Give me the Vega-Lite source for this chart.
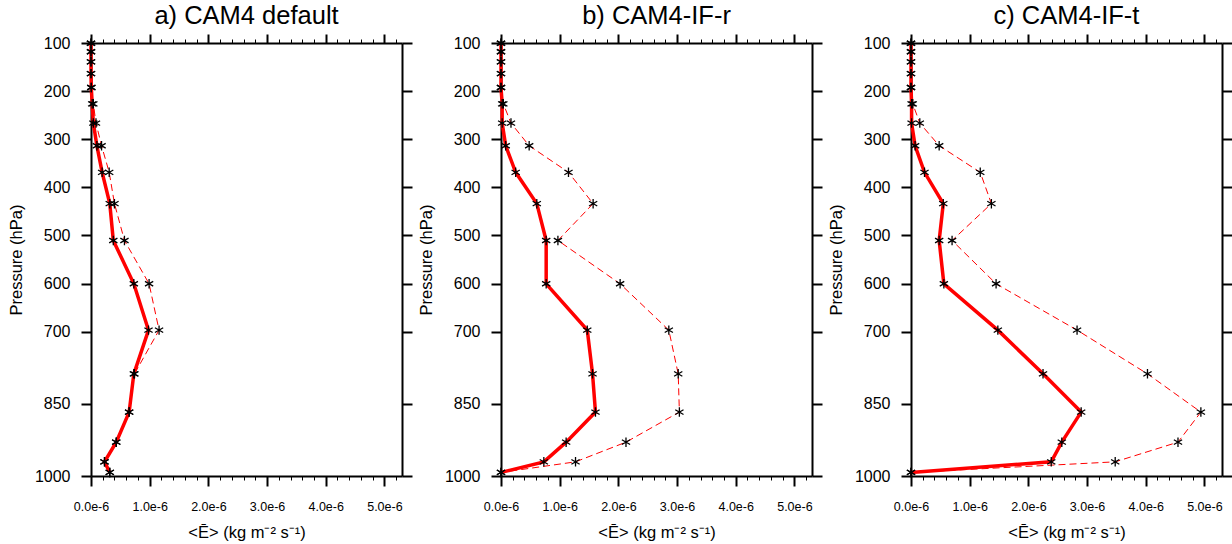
{
  "$schema": "https://vega.github.io/schema/vega-lite/v6.json",
  "padding": {"left": 8, "top": 3, "right": 0, "bottom": 0},
  "datasets": {
    "d": [
      {"panel":"a","s":"s","p":100.51,"e":0},{"panel":"a","s":"s","p":118.25,"e":0},{"panel":"a","s":"s","p":139.12,"e":0},{"panel":"a","s":"s","p":163.66,"e":0},{"panel":"a","s":"s","p":192.54,"e":0.005e-6},{"panel":"a","s":"s","p":226.51,"e":0.02e-6},{"panel":"a","s":"s","p":266.48,"e":0.04e-6},{"panel":"a","s":"s","p":313.5,"e":0.1e-6},{"panel":"a","s":"s","p":368.82,"e":0.19e-6},{"panel":"a","s":"s","p":433.9,"e":0.32e-6},{"panel":"a","s":"s","p":510.46,"e":0.38e-6},{"panel":"a","s":"s","p":600.52,"e":0.73e-6},{"panel":"a","s":"s","p":696.8,"e":0.98e-6},{"panel":"a","s":"s","p":787.7,"e":0.73e-6},{"panel":"a","s":"s","p":867.16,"e":0.65e-6},{"panel":"a","s":"s","p":929.65,"e":0.43e-6},{"panel":"a","s":"s","p":970.55,"e":0.23e-6},{"panel":"a","s":"s","p":992.56,"e":0.32e-6},
      {"panel":"a","s":"d","p":100.51,"e":0},{"panel":"a","s":"d","p":118.25,"e":0},{"panel":"a","s":"d","p":139.12,"e":0},{"panel":"a","s":"d","p":163.66,"e":0},{"panel":"a","s":"d","p":192.54,"e":0.005e-6},{"panel":"a","s":"d","p":226.51,"e":0.04e-6},{"panel":"a","s":"d","p":266.48,"e":0.085e-6},{"panel":"a","s":"d","p":313.5,"e":0.18e-6},{"panel":"a","s":"d","p":368.82,"e":0.31e-6},{"panel":"a","s":"d","p":433.9,"e":0.4e-6},{"panel":"a","s":"d","p":510.46,"e":0.57e-6},{"panel":"a","s":"d","p":600.52,"e":0.99e-6},{"panel":"a","s":"d","p":696.8,"e":1.16e-6},{"panel":"a","s":"d","p":787.7,"e":0.74e-6},{"panel":"a","s":"d","p":867.16,"e":0.65e-6},{"panel":"a","s":"d","p":929.65,"e":0.43e-6},{"panel":"a","s":"d","p":970.55,"e":0.23e-6},{"panel":"a","s":"d","p":992.56,"e":0.32e-6},
      {"panel":"b","s":"s","p":100.51,"e":0},{"panel":"b","s":"s","p":118.25,"e":0},{"panel":"b","s":"s","p":139.12,"e":0},{"panel":"b","s":"s","p":163.66,"e":0},{"panel":"b","s":"s","p":192.54,"e":0},{"panel":"b","s":"s","p":226.51,"e":0.02e-6},{"panel":"b","s":"s","p":266.48,"e":0.02e-6},{"panel":"b","s":"s","p":313.5,"e":0.08e-6},{"panel":"b","s":"s","p":368.82,"e":0.25e-6},{"panel":"b","s":"s","p":433.9,"e":0.61e-6},{"panel":"b","s":"s","p":510.46,"e":0.77e-6},{"panel":"b","s":"s","p":600.52,"e":0.77e-6},{"panel":"b","s":"s","p":696.8,"e":1.47e-6},{"panel":"b","s":"s","p":787.7,"e":1.56e-6},{"panel":"b","s":"s","p":867.16,"e":1.61e-6},{"panel":"b","s":"s","p":929.65,"e":1.11e-6},{"panel":"b","s":"s","p":970.55,"e":0.73e-6},{"panel":"b","s":"s","p":992.56,"e":0},
      {"panel":"b","s":"d","p":100.51,"e":0},{"panel":"b","s":"d","p":118.25,"e":0},{"panel":"b","s":"d","p":139.12,"e":0},{"panel":"b","s":"d","p":163.66,"e":0},{"panel":"b","s":"d","p":192.54,"e":0},{"panel":"b","s":"d","p":226.51,"e":0.04e-6},{"panel":"b","s":"d","p":266.48,"e":0.17e-6},{"panel":"b","s":"d","p":313.5,"e":0.48e-6},{"panel":"b","s":"d","p":368.82,"e":1.15e-6},{"panel":"b","s":"d","p":433.9,"e":1.57e-6},{"panel":"b","s":"d","p":510.46,"e":0.97e-6},{"panel":"b","s":"d","p":600.52,"e":2.03e-6},{"panel":"b","s":"d","p":696.8,"e":2.86e-6},{"panel":"b","s":"d","p":787.7,"e":3.02e-6},{"panel":"b","s":"d","p":867.16,"e":3.04e-6},{"panel":"b","s":"d","p":929.65,"e":2.13e-6},{"panel":"b","s":"d","p":970.55,"e":1.27e-6},{"panel":"b","s":"d","p":992.56,"e":0},
      {"panel":"c","s":"s","p":100.51,"e":0},{"panel":"c","s":"s","p":118.25,"e":0},{"panel":"c","s":"s","p":139.12,"e":0},{"panel":"c","s":"s","p":163.66,"e":0},{"panel":"c","s":"s","p":192.54,"e":0},{"panel":"c","s":"s","p":226.51,"e":0.01e-6},{"panel":"c","s":"s","p":266.48,"e":0.01e-6},{"panel":"c","s":"s","p":313.5,"e":0.07e-6},{"panel":"c","s":"s","p":368.82,"e":0.23e-6},{"panel":"c","s":"s","p":433.9,"e":0.55e-6},{"panel":"c","s":"s","p":510.46,"e":0.48e-6},{"panel":"c","s":"s","p":600.52,"e":0.56e-6},{"panel":"c","s":"s","p":696.8,"e":1.48e-6},{"panel":"c","s":"s","p":787.7,"e":2.25e-6},{"panel":"c","s":"s","p":867.16,"e":2.9e-6},{"panel":"c","s":"s","p":929.65,"e":2.57e-6},{"panel":"c","s":"s","p":970.55,"e":2.39e-6},{"panel":"c","s":"s","p":992.56,"e":0},
      {"panel":"c","s":"d","p":100.51,"e":0},{"panel":"c","s":"d","p":118.25,"e":0},{"panel":"c","s":"d","p":139.12,"e":0},{"panel":"c","s":"d","p":163.66,"e":0},{"panel":"c","s":"d","p":192.54,"e":0},{"panel":"c","s":"d","p":226.51,"e":0.03e-6},{"panel":"c","s":"d","p":266.48,"e":0.15e-6},{"panel":"c","s":"d","p":313.5,"e":0.48e-6},{"panel":"c","s":"d","p":368.82,"e":1.18e-6},{"panel":"c","s":"d","p":433.9,"e":1.37e-6},{"panel":"c","s":"d","p":510.46,"e":0.7e-6},{"panel":"c","s":"d","p":600.52,"e":1.45e-6},{"panel":"c","s":"d","p":696.8,"e":2.83e-6},{"panel":"c","s":"d","p":787.7,"e":4.03e-6},{"panel":"c","s":"d","p":867.16,"e":4.94e-6},{"panel":"c","s":"d","p":929.65,"e":4.55e-6},{"panel":"c","s":"d","p":970.55,"e":3.48e-6},{"panel":"c","s":"d","p":992.56,"e":0}
    ]
  },
  "data": {"name": "d"},
  "spacing": 99,
  "bounds": "flush",
  "hconcat": [
    {
      "title": "a) CAM4 default",
      "width": 311, "height": 433,
      "transform": [{"filter": "datum.panel == 'a'"}],
      "layer": [
        {"transform": [{"filter": "datum.s == 'd'"}],
         "mark": {"type": "line", "color": "#ff0000", "strokeWidth": 1, "strokeDash": [7, 4]},
         "encoding": {
           "x": {"field": "e", "type": "quantitative", "scale": {"domain": [0, 5.3e-6], "nice": false, "zero": true},
                 "axis": {"orient": "bottom", "title": "<Ē> (kg m⁻² s⁻¹)", "values": [0,0.2e-6,0.4e-6,0.6e-6,0.8e-6,1e-6,1.2e-6,1.4e-6,1.6e-6,1.8e-6,2e-6,2.2e-6,2.4e-6,2.6e-6,2.8e-6,3e-6,3.2e-6,3.4e-6,3.6e-6,3.8e-6,4e-6,4.2e-6,4.4e-6,4.6e-6,4.8e-6,5e-6,5.2e-6],
                          "labelExpr": "abs(datum.value*1e6 - round(datum.value*1e6)) < 0.01 ? format(datum.value*1e6, '.1f') + 'e-6' : ''",
                          "tickSize": {"condition": {"test": "abs(datum.value*1e6 - round(datum.value*1e6)) < 0.01", "value": 10}, "value": 4},
                          "tickWidth": {"condition": {"test": "abs(datum.value*1e6 - round(datum.value*1e6)) < 0.01", "value": 2}, "value": 1},
                          "labelFontSize": 12.5, "labelPadding": 14.5, "titleFontSize": 16.5, "titlePadding": 11, "labelFlush": false, "labelOverlap": false}},
           "y": {"field": "p", "type": "quantitative", "scale": {"domain": [100, 1000], "reverse": true, "nice": false, "zero": false},
                 "axis": {"orient": "left", "title": "Pressure (hPa)", "format": "d", "values": [100,200,300,400,500,600,700,850,1000], "tickSize": 10, "tickWidth": 2, "labelPadding": 11, "labelFontSize": 16, "titleFontSize": 16.5, "titlePadding": 10, "labelFlush": false, "labelOverlap": false}},
           "order": {"field": "p"}
         }},
        {"transform": [{"filter": "datum.s == 's'"}],
         "mark": {"type": "line", "color": "#ff0000", "strokeWidth": 3.5},
         "encoding": {
           "x": {"field": "e", "type": "quantitative", "scale": {"domain": [0, 5.3e-6], "nice": false, "zero": true},
                 "axis": {"orient": "top", "title": null, "labels": false, "values": [0,0.2e-6,0.4e-6,0.6e-6,0.8e-6,1e-6,1.2e-6,1.4e-6,1.6e-6,1.8e-6,2e-6,2.2e-6,2.4e-6,2.6e-6,2.8e-6,3e-6,3.2e-6,3.4e-6,3.6e-6,3.8e-6,4e-6,4.2e-6,4.4e-6,4.6e-6,4.8e-6,5e-6,5.2e-6],
                          "tickSize": {"condition": {"test": "abs(datum.value*1e6 - round(datum.value*1e6)) < 0.01", "value": 9}, "value": 4},
                          "tickWidth": {"condition": {"test": "abs(datum.value*1e6 - round(datum.value*1e6)) < 0.01", "value": 2}, "value": 1}}},
           "y": {"field": "p", "type": "quantitative", "scale": {"domain": [100, 1000], "reverse": true, "nice": false, "zero": false},
                 "axis": {"orient": "right", "title": null, "labels": false, "values": [100,200,300,400,500,600,700,850,1000], "tickSize": 10, "tickWidth": 2}},
           "order": {"field": "p"}
         }},
        {"mark": {"type": "point", "shape": "M0,-1L0,1M-0.87,-0.5L0.87,0.5M-0.87,0.5L0.87,-0.5", "filled": false, "color": "black", "strokeWidth": 1.3, "size": 90, "opacity": 1},
         "encoding": {
           "x": {"field": "e", "type": "quantitative", "axis": null},
           "y": {"field": "p", "type": "quantitative", "axis": null}
         }}
      ],
      "resolve": {"axis": {"x": "independent", "y": "independent"}}
    },
    {
      "title": "b) CAM4-IF-r",
      "width": 311, "height": 433,
      "transform": [{"filter": "datum.panel == 'b'"}],
      "layer": [
        {"transform": [{"filter": "datum.s == 'd'"}],
         "mark": {"type": "line", "color": "#ff0000", "strokeWidth": 1, "strokeDash": [7, 4]},
         "encoding": {
           "x": {"field": "e", "type": "quantitative", "scale": {"domain": [0, 5.3e-6], "nice": false, "zero": true},
                 "axis": {"orient": "bottom", "title": "<Ē> (kg m⁻² s⁻¹)", "values": [0,0.2e-6,0.4e-6,0.6e-6,0.8e-6,1e-6,1.2e-6,1.4e-6,1.6e-6,1.8e-6,2e-6,2.2e-6,2.4e-6,2.6e-6,2.8e-6,3e-6,3.2e-6,3.4e-6,3.6e-6,3.8e-6,4e-6,4.2e-6,4.4e-6,4.6e-6,4.8e-6,5e-6,5.2e-6],
                          "labelExpr": "abs(datum.value*1e6 - round(datum.value*1e6)) < 0.01 ? format(datum.value*1e6, '.1f') + 'e-6' : ''",
                          "tickSize": {"condition": {"test": "abs(datum.value*1e6 - round(datum.value*1e6)) < 0.01", "value": 10}, "value": 4},
                          "tickWidth": {"condition": {"test": "abs(datum.value*1e6 - round(datum.value*1e6)) < 0.01", "value": 2}, "value": 1},
                          "labelFontSize": 12.5, "labelPadding": 14.5, "titleFontSize": 16.5, "titlePadding": 11, "labelFlush": false, "labelOverlap": false}},
           "y": {"field": "p", "type": "quantitative", "scale": {"domain": [100, 1000], "reverse": true, "nice": false, "zero": false},
                 "axis": {"orient": "left", "title": "Pressure (hPa)", "format": "d", "values": [100,200,300,400,500,600,700,850,1000], "tickSize": 10, "tickWidth": 2, "labelPadding": 11, "labelFontSize": 16, "titleFontSize": 16.5, "titlePadding": 10, "labelFlush": false, "labelOverlap": false}},
           "order": {"field": "p"}
         }},
        {"transform": [{"filter": "datum.s == 's'"}],
         "mark": {"type": "line", "color": "#ff0000", "strokeWidth": 3.5},
         "encoding": {
           "x": {"field": "e", "type": "quantitative", "scale": {"domain": [0, 5.3e-6], "nice": false, "zero": true},
                 "axis": {"orient": "top", "title": null, "labels": false, "values": [0,0.2e-6,0.4e-6,0.6e-6,0.8e-6,1e-6,1.2e-6,1.4e-6,1.6e-6,1.8e-6,2e-6,2.2e-6,2.4e-6,2.6e-6,2.8e-6,3e-6,3.2e-6,3.4e-6,3.6e-6,3.8e-6,4e-6,4.2e-6,4.4e-6,4.6e-6,4.8e-6,5e-6,5.2e-6],
                          "tickSize": {"condition": {"test": "abs(datum.value*1e6 - round(datum.value*1e6)) < 0.01", "value": 9}, "value": 4},
                          "tickWidth": {"condition": {"test": "abs(datum.value*1e6 - round(datum.value*1e6)) < 0.01", "value": 2}, "value": 1}}},
           "y": {"field": "p", "type": "quantitative", "scale": {"domain": [100, 1000], "reverse": true, "nice": false, "zero": false},
                 "axis": {"orient": "right", "title": null, "labels": false, "values": [100,200,300,400,500,600,700,850,1000], "tickSize": 10, "tickWidth": 2}},
           "order": {"field": "p"}
         }},
        {"mark": {"type": "point", "shape": "M0,-1L0,1M-0.87,-0.5L0.87,0.5M-0.87,0.5L0.87,-0.5", "filled": false, "color": "black", "strokeWidth": 1.3, "size": 90, "opacity": 1},
         "encoding": {
           "x": {"field": "e", "type": "quantitative", "axis": null},
           "y": {"field": "p", "type": "quantitative", "axis": null}
         }}
      ],
      "resolve": {"axis": {"x": "independent", "y": "independent"}}
    },
    {
      "title": "c) CAM4-IF-t",
      "width": 311, "height": 433,
      "transform": [{"filter": "datum.panel == 'c'"}],
      "layer": [
        {"transform": [{"filter": "datum.s == 'd'"}],
         "mark": {"type": "line", "color": "#ff0000", "strokeWidth": 1, "strokeDash": [7, 4]},
         "encoding": {
           "x": {"field": "e", "type": "quantitative", "scale": {"domain": [0, 5.3e-6], "nice": false, "zero": true},
                 "axis": {"orient": "bottom", "title": "<Ē> (kg m⁻² s⁻¹)", "values": [0,0.2e-6,0.4e-6,0.6e-6,0.8e-6,1e-6,1.2e-6,1.4e-6,1.6e-6,1.8e-6,2e-6,2.2e-6,2.4e-6,2.6e-6,2.8e-6,3e-6,3.2e-6,3.4e-6,3.6e-6,3.8e-6,4e-6,4.2e-6,4.4e-6,4.6e-6,4.8e-6,5e-6,5.2e-6],
                          "labelExpr": "abs(datum.value*1e6 - round(datum.value*1e6)) < 0.01 ? format(datum.value*1e6, '.1f') + 'e-6' : ''",
                          "tickSize": {"condition": {"test": "abs(datum.value*1e6 - round(datum.value*1e6)) < 0.01", "value": 10}, "value": 4},
                          "tickWidth": {"condition": {"test": "abs(datum.value*1e6 - round(datum.value*1e6)) < 0.01", "value": 2}, "value": 1},
                          "labelFontSize": 12.5, "labelPadding": 14.5, "titleFontSize": 16.5, "titlePadding": 11, "labelFlush": false, "labelOverlap": false}},
           "y": {"field": "p", "type": "quantitative", "scale": {"domain": [100, 1000], "reverse": true, "nice": false, "zero": false},
                 "axis": {"orient": "left", "title": "Pressure (hPa)", "format": "d", "values": [100,200,300,400,500,600,700,850,1000], "tickSize": 10, "tickWidth": 2, "labelPadding": 11, "labelFontSize": 16, "titleFontSize": 16.5, "titlePadding": 10, "labelFlush": false, "labelOverlap": false}},
           "order": {"field": "p"}
         }},
        {"transform": [{"filter": "datum.s == 's'"}],
         "mark": {"type": "line", "color": "#ff0000", "strokeWidth": 3.5},
         "encoding": {
           "x": {"field": "e", "type": "quantitative", "scale": {"domain": [0, 5.3e-6], "nice": false, "zero": true},
                 "axis": {"orient": "top", "title": null, "labels": false, "values": [0,0.2e-6,0.4e-6,0.6e-6,0.8e-6,1e-6,1.2e-6,1.4e-6,1.6e-6,1.8e-6,2e-6,2.2e-6,2.4e-6,2.6e-6,2.8e-6,3e-6,3.2e-6,3.4e-6,3.6e-6,3.8e-6,4e-6,4.2e-6,4.4e-6,4.6e-6,4.8e-6,5e-6,5.2e-6],
                          "tickSize": {"condition": {"test": "abs(datum.value*1e6 - round(datum.value*1e6)) < 0.01", "value": 9}, "value": 4},
                          "tickWidth": {"condition": {"test": "abs(datum.value*1e6 - round(datum.value*1e6)) < 0.01", "value": 2}, "value": 1}}},
           "y": {"field": "p", "type": "quantitative", "scale": {"domain": [100, 1000], "reverse": true, "nice": false, "zero": false},
                 "axis": {"orient": "right", "title": null, "labels": false, "values": [100,200,300,400,500,600,700,850,1000], "tickSize": 10, "tickWidth": 2}},
           "order": {"field": "p"}
         }},
        {"mark": {"type": "point", "shape": "M0,-1L0,1M-0.87,-0.5L0.87,0.5M-0.87,0.5L0.87,-0.5", "filled": false, "color": "black", "strokeWidth": 1.3, "size": 90, "opacity": 1},
         "encoding": {
           "x": {"field": "e", "type": "quantitative", "axis": null},
           "y": {"field": "p", "type": "quantitative", "axis": null}
         }}
      ],
      "resolve": {"axis": {"x": "independent", "y": "independent"}}
    }
  ],
  "config": {
    "font": "Liberation Sans",
    "view": {"stroke": null},
    "axis": {"grid": false, "domainColor": "black", "domainWidth": 2, "tickColor": "black", "labelColor": "black", "titleColor": "black", "labelFont": "Liberation Sans", "titleFont": "Liberation Sans", "titleFontWeight": "normal", "labelFontWeight": "normal"},
    "title": {"font": "Liberation Sans", "fontSize": 25.5, "fontWeight": "normal", "color": "black", "offset": 4}
  }
}
